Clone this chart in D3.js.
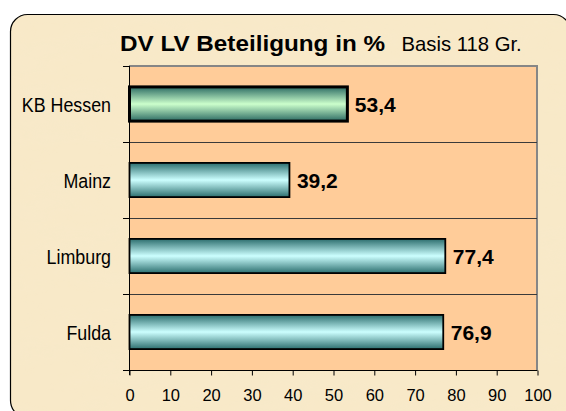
<!DOCTYPE html>
<html>
<head>
<meta charset="utf-8">
<script src="https://cdn.jsdelivr.net/npm/d3@7"></script>
<style>
  html, body { margin: 0; padding: 0; background: #ffffff; }
  svg { display: block; }
  text { font-family: "Liberation Sans", Arial, sans-serif; fill: #000; }
</style>
</head>
<body>
<svg id="chart" width="566" height="411"></svg>
<script>
// ---- data ----
const categories = ["KB Hessen", "Mainz", "Limburg", "Fulda"];
const values = [53.4, 39.2, 77.4, 76.9];
const highlighted = ["KB Hessen"];
const xTicks = [0, 10, 20, 30, 40, 50, 60, 70, 80, 90, 100];
const titleMain = "DV LV Beteiligung in %";
const titleSub = "Basis 118 Gr.";

// ---- layout ----
const plot = { left: 129, right: 537, top: 66, bottom: 370 };

const svg = d3.select("#chart");
const defs = svg.append("defs");

// parchment texture
const f = defs.append("filter").attr("id", "paper")
  .attr("x", 0).attr("y", 0).attr("width", "100%").attr("height", "100%");
f.append("feTurbulence").attr("type", "fractalNoise")
  .attr("baseFrequency", "0.012 0.035").attr("numOctaves", 3).attr("seed", 7).attr("result", "n");
f.append("feColorMatrix").attr("in", "n").attr("type", "matrix")
  .attr("values", "0 0 0 0 0.93  0 0 0 0 0.82  0 0 0 0 0.60  1.5 0 0 0 -0.55")
  .attr("result", "c");
f.append("feComposite").attr("in", "c").attr("in2", "SourceGraphic").attr("operator", "in");

// bar gradients
function grad(id, dark, light) {
  const g = defs.append("linearGradient").attr("id", id)
    .attr("x1", 0).attr("y1", 0).attr("x2", 0).attr("y2", 1);
  g.append("stop").attr("offset", "0%").attr("stop-color", dark);
  g.append("stop").attr("offset", "50%").attr("stop-color", light);
  g.append("stop").attr("offset", "100%").attr("stop-color", dark);
}
grad("gGreen", "#2c6b63", "#ccffcc");
grad("gCyan", "#2c6e6e", "#ccffff");

// outer frame
const frame = { x: 10.5, y: 14.5, w: 560, h: 403, r: 17 };
svg.append("rect").attr("x", frame.x).attr("y", frame.y).attr("width", frame.w).attr("height", frame.h).attr("rx", frame.r)
  .attr("fill", "#f8e9c8");
svg.append("rect").attr("x", frame.x).attr("y", frame.y).attr("width", frame.w).attr("height", frame.h).attr("rx", frame.r)
  .attr("fill", "#f8e9c8").attr("filter", "url(#paper)").attr("opacity", 0.5);
svg.append("rect").attr("x", frame.x).attr("y", frame.y).attr("width", frame.w).attr("height", frame.h).attr("rx", frame.r)
  .attr("fill", "none").attr("stroke", "#000").attr("stroke-width", 1.2);

// scales
const x = d3.scaleLinear().domain([0, 100]).range([plot.left, plot.right]);
const y = d3.scaleBand().domain(categories).range([plot.top, plot.bottom])
  .paddingInner(0.55).paddingOuter(0.275);
const step = y.step();

// plot area
svg.append("rect").attr("x", plot.left).attr("y", plot.top)
  .attr("width", plot.right - plot.left).attr("height", plot.bottom - plot.top)
  .attr("fill", "#ffcc99");
svg.append("path")
  .attr("d", `M${plot.left},${plot.top}H${plot.right}V${plot.bottom}`)
  .attr("fill", "none").attr("stroke", "#868686").attr("stroke-width", 2);

// separators between categories
const bounds = categories.slice(1).map(c => y(c) - (step - y.bandwidth()) / 2);
svg.append("g").selectAll("line").data(bounds).join("line")
  .attr("x1", plot.left).attr("x2", plot.right)
  .attr("y1", d => Math.round(d) + 0.5).attr("y2", d => Math.round(d) + 0.5)
  .attr("stroke", "#3a3a3a").attr("stroke-width", 1);

// y axis with ticks at band boundaries
const allBounds = [plot.top].concat(bounds, [plot.bottom]);
const yAxisG = svg.append("g");
yAxisG.append("line").attr("x1", plot.left + 0.5).attr("x2", plot.left + 0.5)
  .attr("y1", plot.top).attr("y2", plot.bottom + 5).attr("stroke", "#000");
yAxisG.selectAll("line.t").data(allBounds).join("line").attr("class", "t")
  .attr("x1", plot.left - 6).attr("x2", plot.left)
  .attr("y1", d => Math.round(d) + 0.5).attr("y2", d => Math.round(d) + 0.5)
  .attr("stroke", "#000");

// x axis
const xAxis = d3.axisBottom(x).tickValues(xTicks).tickSize(5).tickPadding(14).tickFormat(d3.format("d"));
const xg = svg.append("g").attr("transform", `translate(0.5,${plot.bottom + 0.5})`).call(xAxis);
xg.select(".domain").attr("stroke", "#000").attr("d", `M${plot.left},0H${plot.right}`);
xg.selectAll(".tick line").attr("stroke", "#000");
xg.selectAll(".tick text").attr("font-size", "16.5px").attr("font-family", "'Liberation Sans', Arial, sans-serif")
  .attr("fill", "#000");

// bars
const fmt = d3.formatLocale({ decimal: ",", thousands: ".", grouping: [3], currency: ["", " €"] }).format(".1f");
const data = categories.map((c, i) => ({ c, v: values[i], hi: highlighted.includes(c) }));

svg.append("g").selectAll("rect").data(data).join("rect")
  .attr("x", x(0) + 0.5)
  .attr("y", d => y(d.c))
  .attr("width", d => x(d.v) - x(0))
  .attr("height", y.bandwidth())
  .attr("fill", d => d.hi ? "url(#gGreen)" : "url(#gCyan)")
  .attr("stroke", "#000")
  .attr("stroke-width", d => d.hi ? 3 : 1.8);

// value labels
svg.append("g").selectAll("text").data(data).join("text")
  .attr("x", d => x(d.v) + 8)
  .attr("y", d => y(d.c) + y.bandwidth() / 2 + 7.8)
  .attr("font-size", "21px").attr("font-weight", "bold")
  .text(d => fmt(d.v));

// category labels (slightly condensed)
svg.append("g").selectAll("text").data(categories).join("text")
  .attr("transform", d => `translate(111,${y(d) + y.bandwidth() / 2 + 7.5}) scale(0.87,1)`)
  .attr("text-anchor", "end")
  .attr("font-size", "20.5px")
  .text(d => d);

// title
svg.append("text").attr("x", 120).attr("y", 51)
  .attr("font-size", "22.5px").attr("font-weight", "bold")
  .attr("textLength", 265).attr("lengthAdjust", "spacingAndGlyphs")
  .text(titleMain);
svg.append("text").attr("x", 401.5).attr("y", 51)
  .attr("font-size", "20.3px")
  .text(titleSub);
</script>
</body>
</html>
